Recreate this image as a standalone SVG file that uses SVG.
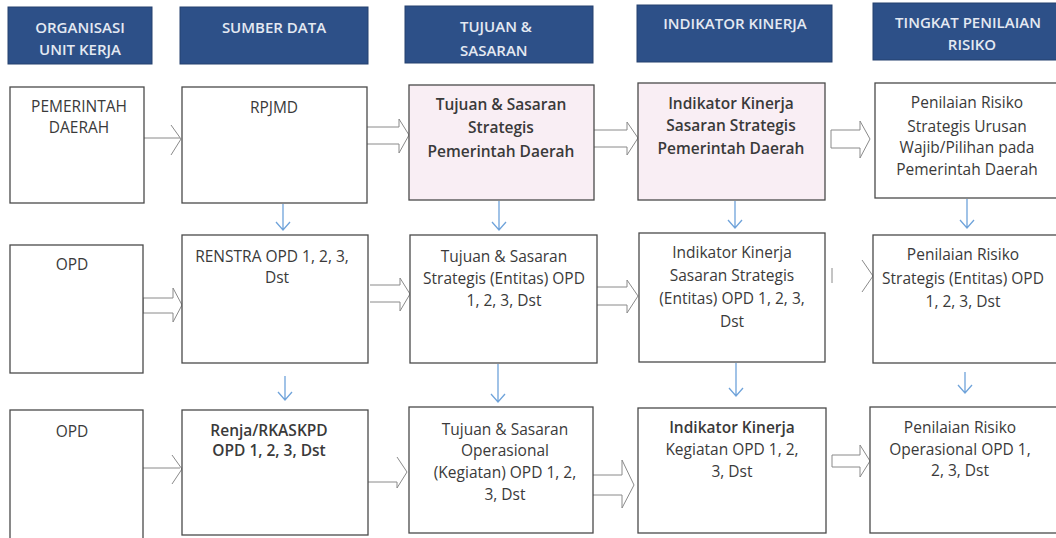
<svg xmlns="http://www.w3.org/2000/svg" width="1056" height="538" viewBox="0 0 1056 538">
<defs>
<style>
.hdr{fill:#2d5088;stroke:#24406e;stroke-width:1}
.ht{font-family:"Open Sans","Liberation Sans",sans-serif;font-size:15px;font-weight:600;fill:#e4e9f2}
.box{fill:#ffffff;stroke:#4a4a4a;stroke-width:1.3}
.pink{fill:#f9eef4;stroke:#4a4a4a;stroke-width:1.3}
.t{font-family:"Open Sans","Liberation Sans",sans-serif;font-size:15.5px;fill:#3a3a3a;text-anchor:middle}
.b{font-weight:600}
.blk{fill:none;stroke:#8a8a8a;stroke-width:1;stroke-linejoin:miter}
.dn{fill:none;stroke:#6fa3da;stroke-width:1.3}
</style>
</defs>
<rect width="1056" height="538" fill="#ffffff"/>

<g id="headers">
<g id="h1"><rect class="hdr" x="8" y="7" width="144" height="57"/>
<text class="ht" text-anchor="middle"><tspan x="80" y="33">ORGANISASI</tspan><tspan x="80" y="55">UNIT KERJA</tspan></text></g>
<g id="h2"><rect class="hdr" x="180" y="7" width="188" height="57"/>
<text class="ht" x="274" y="33" text-anchor="middle">SUMBER DATA</text></g>
<g id="h3"><rect class="hdr" x="405" y="6" width="188" height="57"/>
<text class="ht"><tspan x="460" y="32">TUJUAN &amp;</tspan><tspan x="460" y="56">SASARAN</tspan></text></g>
<g id="h4"><rect class="hdr" x="637" y="5" width="195" height="57"/>
<text class="ht" x="735" y="29" text-anchor="middle">INDIKATOR KINERJA</text></g>
<g id="h5"><rect class="hdr" x="873" y="3" width="192" height="57"/>
<text class="ht" text-anchor="middle"><tspan x="968" y="28">TINGKAT PENILAIAN</tspan><tspan x="972" y="50">RISIKO</tspan></text></g>
</g>

<g id="connectors">
<!-- row 1 -->
<path class="blk" d="M144,138 H180 M171,125 L181,139 L171,155"/>
<path class="blk" d="M367,127 H399 V119 L409,135 L399,153 V144 H367"/>
<path class="blk" d="M594,130 H627 V122 L638,138 L627,155 V147 H594"/>
<path class="blk" d="M831,130 H860 V121 L870,139 L860,158 V148 H831 Z"/>
<!-- row 2 -->
<path class="blk" d="M143,298 H173 V288 L182,305 L173,322 V313 H143 Z"/>
<path class="blk" d="M370,285 H400 V278 L410,294 L400,311 V302 H370"/>
<path class="blk" d="M597,287 H627 V280 L638,296 L627,313 V305 H597"/>
<path class="blk" d="M832,268 V283 M862,260 L873,276 L862,292"/>
<!-- row 3 -->
<path class="blk" d="M143,468 H180 M172,455 L182,469 L172,484"/>
<path class="blk" d="M367,482 H397 V488 L407,472 L397,457"/>
<path class="blk" d="M593,475 H622 V460 L634,485 L622,508 V495 H593"/>
<path class="blk" d="M832,455 H860 V445 L870,461 L860,477 V467 H832 Z"/>
<!-- down arrows row1 -> row2 -->
<path class="dn" d="M283,204 V230 M276,222 L283,230 L290,222"/>
<path class="dn" d="M499,201 V230 M492,222 L499,230 L506,222"/>
<path class="dn" d="M735,201 V228 M728,220 L735,228 L742,220"/>
<path class="dn" d="M967,199 V228 M960,220 L967,228 L974,220"/>
<!-- down arrows row2 -> row3 -->
<path class="dn" d="M285,376 V400 M278,392 L285,400 L292,392"/>
<path class="dn" d="M498,364 V402 M491,394 L498,402 L505,394"/>
<path class="dn" d="M736,363 V396 M729,388 L736,396 L743,388"/>
<path class="dn" d="M965,372 V393 M958,385 L965,393 L972,385"/>
</g>

<!-- Row 1 -->
<g id="r1c1"><rect class="box" x="10" y="87" width="134" height="116"/>
<text class="t"><tspan x="79" y="112">PEMERINTAH</tspan><tspan x="79" y="133">DAERAH</tspan></text></g>
<g id="r1c2"><rect class="box" x="182" y="87" width="185" height="116"/>
<text class="t" x="274" y="113">RPJMD</text></g>
<g id="r1c3"><rect class="pink" x="409" y="85" width="185" height="115"/>
<text class="t b"><tspan x="501" y="110">Tujuan &amp; Sasaran</tspan><tspan x="501" y="133">Strategis</tspan><tspan x="501" y="157">Pemerintah Daerah</tspan></text></g>
<g id="r1c4"><rect class="pink" x="638" y="83" width="187" height="117"/>
<text class="t b"><tspan x="731" y="109">Indikator Kinerja</tspan><tspan x="731" y="131">Sasaran Strategis</tspan><tspan x="731" y="154">Pemerintah Daerah</tspan></text></g>
<g id="r1c5"><rect class="box" x="875" y="83" width="190" height="115"/>
<text class="t"><tspan x="967" y="108">Penilaian Risiko</tspan><tspan x="967" y="132">Strategis Urusan</tspan><tspan x="967" y="153">Wajib/Pilihan pada</tspan><tspan x="967" y="175">Pemerintah Daerah</tspan></text></g>

<!-- Row 2 -->
<g id="r2c1"><rect class="box" x="10" y="245" width="133" height="128"/>
<text class="t" x="72" y="270">OPD</text></g>
<g id="r2c2"><rect class="box" x="182" y="235" width="186" height="128"/>
<text class="t"><tspan x="272" y="262">RENSTRA OPD 1, 2, 3,</tspan><tspan x="277" y="283">Dst</tspan></text></g>
<g id="r2c3"><rect class="box" x="410" y="235" width="187" height="128"/>
<text class="t"><tspan x="504" y="262">Tujuan &amp; Sasaran</tspan><tspan x="504" y="284">Strategis (Entitas) OPD</tspan><tspan x="504" y="306">1, 2, 3, Dst</tspan></text></g>
<g id="r2c4"><rect class="box" x="639" y="233" width="186" height="129"/>
<text class="t"><tspan x="732" y="258">Indikator Kinerja</tspan><tspan x="732" y="281">Sasaran Strategis</tspan><tspan x="732" y="304">(Entitas) OPD 1, 2, 3,</tspan><tspan x="732" y="327">Dst</tspan></text></g>
<g id="r2c5"><rect class="box" x="873" y="235" width="192" height="128"/>
<text class="t"><tspan x="963" y="260">Penilaian Risiko</tspan><tspan x="963" y="284">Strategis (Entitas) OPD</tspan><tspan x="963" y="307">1, 2, 3, Dst</tspan></text></g>

<!-- Row 3 -->
<g id="r3c1"><rect class="box" x="10" y="410" width="133" height="130"/>
<text class="t" x="72" y="437">OPD</text></g>
<g id="r3c2"><rect class="box" x="182" y="410" width="186" height="125"/>
<text class="t b"><tspan x="269" y="436">Renja/RKASKPD</tspan><tspan x="269" y="456">OPD 1, 2, 3, Dst</tspan></text></g>
<g id="r3c3"><rect class="box" x="409" y="407" width="184" height="126"/>
<text class="t"><tspan x="505" y="435">Tujuan &amp; Sasaran</tspan><tspan x="505" y="456">Operasional</tspan><tspan x="505" y="478">(Kegiatan) OPD 1, 2,</tspan><tspan x="505" y="500">3, Dst</tspan></text></g>
<g id="r3c4"><rect class="box" x="638" y="408" width="188" height="125"/>
<text class="t"><tspan x="732" y="433" font-weight="600">Indikator Kinerja</tspan><tspan x="732" y="455">Kegiatan OPD 1, 2,</tspan><tspan x="732" y="477">3, Dst</tspan></text></g>
<g id="r3c5"><rect class="box" x="870" y="407" width="195" height="126"/>
<text class="t"><tspan x="960" y="433">Penilaian Risiko</tspan><tspan x="960" y="455">Operasional OPD 1,</tspan><tspan x="960" y="476">2, 3, Dst</tspan></text></g>
</svg>
